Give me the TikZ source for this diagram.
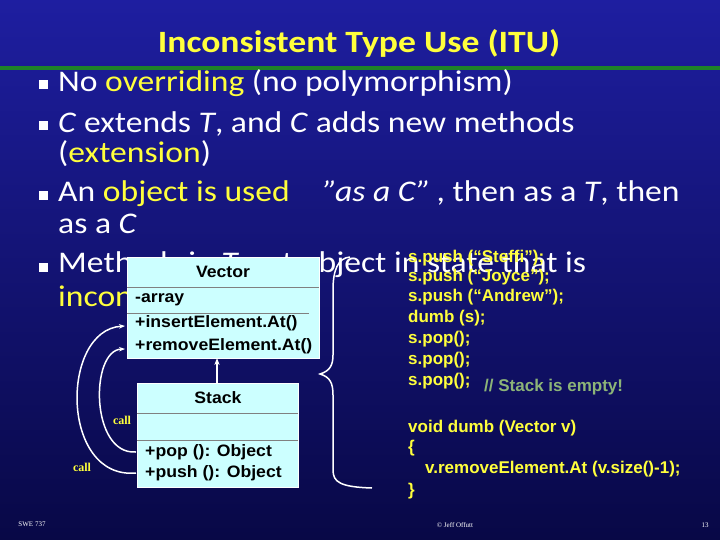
\documentclass[tikz,border=0pt]{standalone}
\usepackage{fontspec}
\setmainfont{Carlito}
\newfontfamily\arial{Liberation Sans}
\newfontfamily\tms{Liberation Serif}
\usetikzlibrary{arrows.meta}
\definecolor{ylw}{RGB}{255,255,60}
\definecolor{boxc}{RGB}{204,255,255}
\definecolor{cmt}{RGB}{140,180,120}
\begin{document}
\begin{tikzpicture}[x=1pt,y=-1pt,
  bl/.style={anchor=west,text=white,font=\fontsize{30}{32}\selectfont,inner sep=0,xscale=1.12},
  bul/.style={fill=white,minimum size=9pt,inner sep=0},
  uml/.style={anchor=west,text=black,font=\arial\bfseries\fontsize{16.5}{17}\selectfont,inner sep=0,xscale=1.07},
  code/.style={anchor=west,text=ylw,font=\arial\bfseries\fontsize{17}{18}\selectfont,inner sep=0,xscale=1.0},
  callt/.style={text=ylw,font=\tms\bfseries\fontsize{12}{12}\selectfont,inner sep=0},
  wl/.style={white,line width=1.5pt}]
\shade[top color={rgb,255:red,30;green,30;blue,160},bottom color={rgb,255:red,8;green,8;blue,70}] (0,0) rectangle (720,540);
\useasboundingbox (0,0) rectangle (720,540);
\node[text=ylw,font=\bfseries\fontsize{31}{33}\selectfont,xscale=1.15] (title) at (359,43) {Inconsistent Type Use (ITU)};
\draw[line width=4pt,color={rgb,255:red,30;green,130;blue,40}] (0,68) -- (720,68);
\node[bul] (b1) at (43,85) {}; \node[bl] (t1) at (58,83) {No \textcolor{ylw}{overriding} (no polymorphism)};
\node[bul] (b2) at (43,126) {}; \node[bl] (t2) at (58,124) {\textit{C} extends \textit{T}, and \textit{C} adds new methods};
\node[bl] (t2b) at (58,154) {(\textcolor{ylw}{extension})};
\node[bul] (b3) at (43,196) {}; \node[bl] (t3) at (58,194) {An \textcolor{ylw}{object is used}\quad\textit{"as a C"}\,, then as a \textit{T}, then};
\node[bl] (t3b) at (58,224) {as a \textit{C}};
\node[bul] (b4) at (43,267) {}; \node[bl] (t4) at (58,265) {Methods in \textit{T} put object in state that is};
\node[bl] (t4b) at (58,296) {\textcolor{ylw}{inconsistent for \textit{C}}};
% Vector
\draw[fill=boxc,draw=white,line width=0.4pt] (127,257) rectangle (319,358);
\draw[gray] (127,287) -- (319,287);
\draw[gray] (127,313) -- (309,313);
\node[uml,anchor=center] (vt) at (223,272) {Vector};
\node[uml] (va) at (135,300) {-array};
\node[uml] (vi) at (135,323) {+insertElement.At()};
\node[uml] (vr) at (135,346) {+removeElement.At()};
% Stack
\draw[fill=boxc,draw=white,line width=0.4pt] (137,383) rectangle (298,487);
\draw[gray] (137,413) -- (298,413);
\draw[gray] (137,440) -- (298,440);
\node[uml,anchor=center] (st) at (218,398) {Stack};
\node[uml] (sp) at (145,452) {+pop (): Object};
\node[uml] (su) at (145,473) {+push (): Object};
\coordinate (stop) at (217,383); \coordinate (vbot) at (217,358);
\draw[wl,-{Stealth[length=7pt]}] (stop) -- (vbot);
\coordinate (pushL) at (136,473); \coordinate (popL) at (136,452);
\coordinate (insL) at (125,326); \coordinate (remL) at (125,349);
\draw[wl,-{Stealth[length=6pt]}] (pushL) .. controls (60,480) and (60,330) .. (insL);
\draw[wl,-{Stealth[length=6pt]}] (popL) .. controls (90,455) and (90,350) .. (remL);
\node[callt] (c1) at (122,420) {call};
\node[callt] (c2) at (82,467) {call};
% brace
\draw[wl] (350,257) .. controls (338,258) and (333,270) .. (333,290) -- (333,355) .. controls (333,365) and (330,371) .. (320,374)
  .. controls (330,377) and (333,383) .. (333,395) -- (333,470) .. controls (333,482) and (340,487) .. (372,488);
% code
\node[code] (k1) at (408,258) {s.push (“Steffi”);};
\node[code] (k2) at (408,277) {s.push (“Joyce”);};
\node[code] (k3) at (408,297) {s.push (“Andrew”);};
\node[code] (k4) at (408,318) {dumb (s);};
\node[code] (k5) at (408,339) {s.pop();};
\node[code] (k6) at (408,360) {s.pop();};
\node[code] (k7) at (408,381) {s.pop();};
\node[code,text=cmt] (k8) at (484,387) {// Stack is empty!};
\node[code] (k9) at (408,428) {void dumb (Vector v)};
\node[code] (k10) at (408,448) {\{};
\node[code] (k11) at (425,469) {v.removeElement.At (v.size()-1);};
\node[code] (k12) at (408,491) {\}};
% footer
\node[text=white,font=\tms\fontsize{7}{7}\selectfont] (f1) at (32,524) {SWE 737};
\node[text=white,font=\tms\fontsize{7}{7}\selectfont] (f2) at (455,525) {© Jeff Offutt};
\node[text=white,font=\tms\fontsize{7}{7}\selectfont] (f3) at (705,525) {13};
\end{tikzpicture}
\end{document}
